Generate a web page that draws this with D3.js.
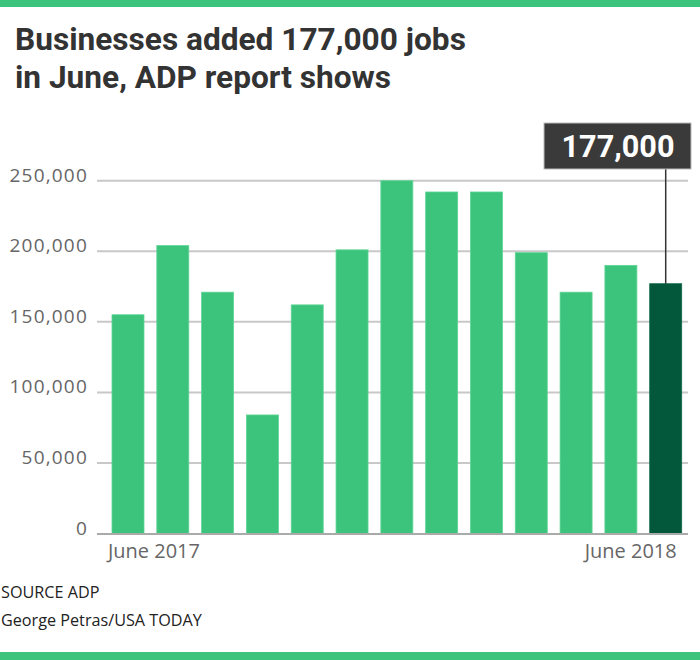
<!DOCTYPE html>
<html>
<head>
<meta charset="utf-8">
<script src="https://cdn.jsdelivr.net/npm/d3@7"></script>
<style>
  html, body { margin: 0; padding: 0; background: #fff; }
  svg { display: block; }
</style>
</head>
<body>
<svg id="chart" width="700" height="660"></svg>
<script>
const months = ["Jun17","Jul17","Aug17","Sep17","Oct17","Nov17","Dec17","Jan18","Feb18","Mar18","Apr18","May18","Jun18"];
const jobsAdded = [155000, 204000, 171000, 84000, 162000, 201000, 250000, 242000, 242000, 199000, 171000, 190000, 177000];
const yTicks = [0, 50000, 100000, 150000, 200000, 250000];
const xLabels = ["June 2017", "June 2018"];
const titleLines = ["Businesses added 177,000 jobs", "in June, ADP report shows"];
const calloutLabel = "177,000";
const footerLines = ["SOURCE ADP", "George Petras/USA TODAY"];

const svg = d3.select("#chart");
const W = 700, H = 660;
const green = "#3cc47c", darkGreen = "#03573a";

// top/bottom bands
svg.append("rect").attr("x", 0).attr("y", 0).attr("width", W).attr("height", 7).attr("fill", green);
svg.append("rect").attr("x", 0).attr("y", 652).attr("width", W).attr("height", 8).attr("fill", green);

// fit helper
function fitWidth(sel, target) {
  const fs0 = +sel.attr("font-size");
  const w = sel.node().getComputedTextLength();
  sel.attr("font-size", fs0 * target / w);
}

// title
const titleFont = "Roboto, 'Open Sans', sans-serif";
const tl = svg.selectAll("text.title").data(titleLines).join("text")
  .attr("class", "title")
  .attr("x", 15).attr("y", (d, i) => 50 + i * 38)
  .attr("font-family", titleFont).attr("font-weight", 700)
  .attr("font-size", 30).attr("fill", "#333")
  .text(d => d);
const w0 = tl.node().getComputedTextLength();
tl.attr("font-size", 30 * 451 / w0);

const y = d3.scaleLinear().domain([0, 250000]).range([533.5, 180.7]);
const x = d3.scaleBand().domain(months).range([112, 681.7]).paddingInner(0.286).paddingOuter(0);

const axisFont = "'Open Sans', Roboto, sans-serif";

// gridlines
svg.append("g").selectAll("line.grid").data(yTicks.filter(d => d > 0)).join("line")
  .attr("class", "grid")
  .attr("x1", 97).attr("x2", 688)
  .attr("y1", d => y(d)).attr("y2", d => y(d))
  .attr("stroke", "#c8c8c8").attr("stroke-width", 2);

// y axis labels
const yAxis = d3.axisLeft(y).tickValues(yTicks).tickSize(0).tickPadding(0)
  .tickFormat(d3.format(","));
const ga = svg.append("g").attr("transform", "translate(88,0)").call(yAxis);
ga.select(".domain").remove();
ga.selectAll("text")
  .attr("font-family", axisFont).attr("font-size", 19).attr("fill", "#666")
  .attr("letter-spacing", 1.2)
  .attr("dy", "0").attr("y", 0);
ga.selectAll(".tick").attr("transform", d => `translate(0,${y(d) + 1})`);

// bars
svg.selectAll("rect.bar").data(jobsAdded).join("rect")
  .attr("class", "bar")
  .attr("x", (d, i) => x(months[i]))
  .attr("width", x.bandwidth())
  .attr("y", d => y(d))
  .attr("height", d => y(0) - y(d))
  .attr("fill", (d, i) => i === jobsAdded.length - 1 ? darkGreen : green)
  .attr("stroke", (d, i) => i === jobsAdded.length - 1 ? "#0f6b48" : "#5fd596")
  .attr("stroke-width", 0.8);

// baseline
svg.append("line").attr("x1", 97).attr("x2", 688).attr("y1", y(0) + 0.5).attr("y2", y(0) + 0.5)
  .attr("stroke", "#aaa").attr("stroke-width", 2);

// x labels
const xl1 = svg.append("text").attr("x", x(months[0]) - 4).attr("y", 558)
  .attr("font-family", axisFont).attr("font-size", 17).attr("fill", "#666")
  .text(xLabels[0]);
fitWidth(xl1, 92);
const xl2 = svg.append("text").attr("x", x(months[months.length - 1]) + x.bandwidth() - 5).attr("y", 558)
  .attr("text-anchor", "end")
  .attr("font-family", axisFont).attr("font-size", 17).attr("fill", "#666")
  .text(xLabels[1]);
fitWidth(xl2, 92);

// callout
const last = months[months.length - 1];
const cx = x(last) + x.bandwidth() / 2;
svg.append("line").attr("x1", cx).attr("x2", cx).attr("y1", 168).attr("y2", y(jobsAdded[jobsAdded.length - 1]))
  .attr("stroke", "#333").attr("stroke-width", 1.5);
svg.append("rect").attr("x", 544).attr("y", 123).attr("width", 147).attr("height", 46)
  .attr("fill", "#3a3a3a").attr("stroke", "#bbb").attr("stroke-width", 1);
const ct = svg.append("text").attr("x", 618).attr("y", 157)
  .attr("text-anchor", "middle")
  .attr("font-family", titleFont).attr("font-weight", 700).attr("font-size", 31).attr("fill", "#fff")
  .text(calloutLabel);
fitWidth(ct, 113);

// footer
const ft = svg.selectAll("text.foot").data(footerLines).join("text")
  .attr("class", "foot")
  .attr("x", 1).attr("y", (d, i) => 598 + i * 28)
  .attr("font-family", axisFont).attr("font-size", 15).attr("fill", "#222")
  .text(d => d);
const fw = ft.nodes()[1].getComputedTextLength();
ft.attr("font-size", 15 * 201 / fw);
</script>
</body>
</html>
